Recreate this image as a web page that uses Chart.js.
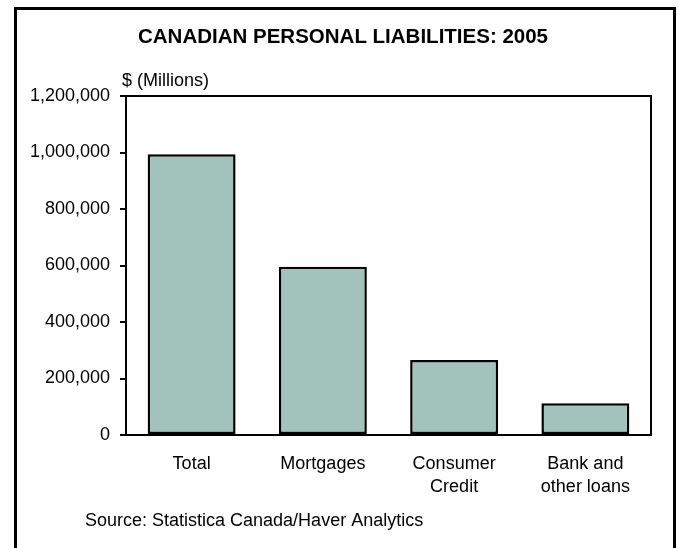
<!DOCTYPE html>
<html>
<head>
<meta charset="utf-8">
<script src="https://cdn.jsdelivr.net/npm/chart.js@4"></script>
<style>
  html, body { margin: 0; padding: 0; background: #fff; }
  #wrap { width: 678px; height: 548px; }
</style>
</head>
<body>
<div id="wrap"><canvas id="liabilitiesChart" width="678" height="548"></canvas></div>
<script>
const categories = [['Total'], ['Mortgages'], ['Consumer', 'Credit'], ['Bank and', 'other loans']];
const liabilities = [994000, 596000, 265500, 112000];
const yTicks = [0, 200000, 400000, 600000, 800000, 1000000, 1200000];

const chartTitle = 'CANADIAN PERSONAL LIABILITIES: 2005';
const unitLabel = '$ (Millions)';
const sourceNote = 'Source: Statistica Canada/Haver Analytics';

const FONT = "'Liberation Sans', Arial, sans-serif";

// outer frame, box round the plot, and the loose texts
const framePlugin = {
  id: 'frame',
  afterDraw: (chart) => {
    const ctx = chart.ctx;
    const area = chart.chartArea;
    ctx.save();
    ctx.strokeStyle = '#000';
    ctx.lineWidth = 3;
    ctx.strokeRect(15.5, 8.5, 659, 560);

    ctx.lineWidth = 2;
    ctx.beginPath();
    ctx.moveTo(area.left, area.top);
    ctx.lineTo(area.right, area.top);
    ctx.lineTo(area.right, area.bottom);
    ctx.stroke();

    ctx.fillStyle = '#000';
    ctx.textBaseline = 'alphabetic';
    ctx.textAlign = 'center';
    ctx.font = `bold 20.5px ${FONT}`;
    ctx.fillText(chartTitle, 343, 42.5);

    ctx.textAlign = 'left';
    ctx.font = `18px ${FONT}`;
    ctx.fillText(unitLabel, 122, 86);
    ctx.fillText(sourceNote, 85, 526);
    ctx.restore();
  },
};

const data = {
  labels: categories,
  datasets: [
    {
      label: 'Liabilities',
      data: liabilities,
      backgroundColor: '#A1C3BC',
      borderColor: '#000',
      borderWidth: 2.5,
      borderSkipped: false,
      barPercentage: 0.67,
      categoryPercentage: 1,
    },
  ],
};

const config = {
  type: 'bar',
  data: data,
  options: {
    responsive: false,
    animation: false,
    layout: {
      padding: { left: 0, right: 27, top: 96, bottom: 0 },
    },
    plugins: {
      legend: { display: false },
      tooltip: { enabled: false },
    },
    scales: {
      x: {
        grid: { display: false, drawTicks: false },
        border: { color: '#000', width: 2 },
        ticks: {
          color: '#000',
          font: { family: FONT, size: 18, lineHeight: 1.27 },
          padding: 18,
          maxRotation: 0,
        },
        afterFit: (scale) => {
          scale.height = 113;
        },
      },
      y: {
        min: 0,
        max: 1200000,
        afterBuildTicks: (scale) => {
          scale.ticks = yTicks.map((v) => ({ value: v }));
        },
        grid: {
          drawOnChartArea: false,
          drawTicks: true,
          tickLength: 6,
          color: '#000',
          lineWidth: 2,
        },
        border: { color: '#000', width: 2 },
        ticks: {
          color: '#000',
          font: { family: FONT, size: 18 },
          padding: 10,
          callback: (v) => v.toLocaleString('en-US'),
        },
        afterFit: (scale) => {
          scale.width = 126;
        },
      },
    },
  },
  plugins: [framePlugin],
};

window.liabilitiesChart = new Chart(document.getElementById('liabilitiesChart'), config);
</script>
</body>
</html>
